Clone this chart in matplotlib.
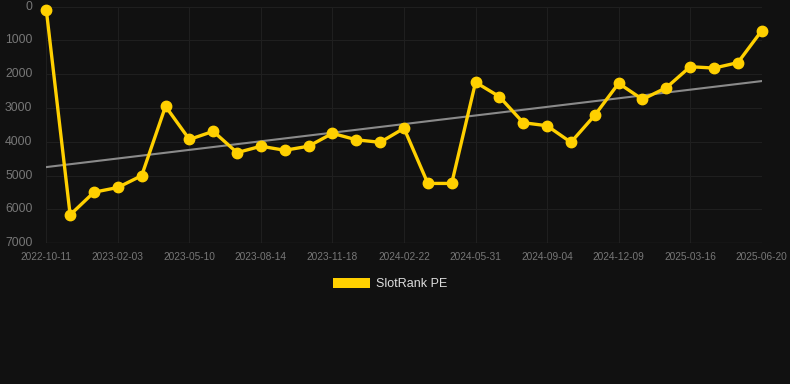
import numpy as np
import matplotlib
matplotlib.use('Agg')
import matplotlib.pyplot as plt
from matplotlib.patches import Patch

#-------------------------------------------------------------#
# Data
#-------------------------------------------------------------#
tick_labels = ['2022-10-11', '2023-02-03', '2023-05-10', '2023-08-14',
               '2023-11-18', '2024-02-22', '2024-05-31', '2024-09-04',
               '2024-12-09', '2025-03-16', '2025-06-20']

rank = [100, 6160, 5490, 5350, 5000, 2950, 3930, 3690, 4320, 4130,
        4250, 4130, 3750, 3940, 4015, 3600, 5230, 5230, 2240, 2665,
        3435, 3525, 4015, 3215, 2270, 2745, 2400, 1780, 1820, 1660, 715]

series_name = 'SlotRank PE'

#-------------------------------------------------------------#
# Plot
#-------------------------------------------------------------#
bg = '#111111'
gold = '#FFD000'

x = np.arange(len(rank))
fit = np.polyfit(x, rank, 1)   # trend line

fig = plt.figure(figsize=(7.9, 3.84), dpi=100, facecolor=bg)
ax = fig.add_axes([46.3/790, 1-243.3/384, (761.7-46.3)/790, (243.3-6.5)/384])
ax.set_facecolor(bg)

ax.plot(x, np.polyval(fit, x), color='#8a8a8a', linewidth=1.5, zorder=2)
ax.plot(x, rank, color=gold, linewidth=2.4, marker='o', markersize=7.5,
        zorder=3, clip_on=False)

ax.set_xlim(0, len(rank)-1)
ax.set_ylim(7000, 0)
ax.set_yticks(np.arange(0, 7001, 1000))
ax.set_xticks(x[::3])
ax.set_xticklabels(tick_labels)

ax.grid(True, color='#1f1f1f', linewidth=0.8)
ax.set_axisbelow(True)
for s in ax.spines.values():
    s.set_visible(False)
ax.axhline(7000, color='#2a2a2a', linewidth=1, zorder=1)

ax.tick_params(axis='x', colors='#777777', labelsize=7.3, length=0, pad=6)
ax.tick_params(axis='y', colors='#777777', labelsize=8.8, length=0, pad=10)
for lab in ax.get_xticklabels() + ax.get_yticklabels():
    lab.set_family(['Liberation Sans', 'DejaVu Sans'])
for lab in ax.get_yticklabels():
    lab.set_verticalalignment('center')

leg = fig.legend(handles=[Patch(facecolor=gold, label=series_name)],
                 loc='center', bbox_to_anchor=(390/790, 1-284/384),
                 frameon=False, handlelength=3.0, handleheight=0.9,
                 handletextpad=0.5,
                 prop={'family': ['Liberation Sans', 'DejaVu Sans'], 'size': 9})
for t in leg.get_texts():
    t.set_color('#dddddd')

fig.savefig('out.png', dpi=100, facecolor=bg)
